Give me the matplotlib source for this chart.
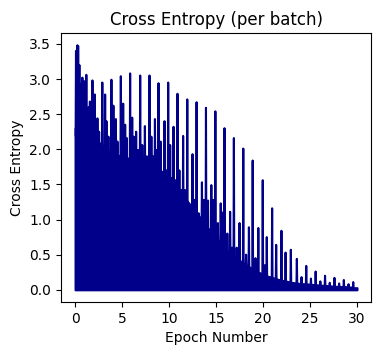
import matplotlib

matplotlib.use("Agg")

import matplotlib.pyplot as plt

# Spikes of the per-batch loss: where they sit (epoch),
# how high they reach, and the level the loss falls back to around them
peak_epoch = [
    0.10, 0.25, 0.33, 0.46, 0.60, 0.78, 0.96, 1.20, 1.45, 1.58, 1.85, 2.10,
    2.38, 2.56, 2.90, 3.20, 3.34, 3.55, 3.87, 4.08, 4.34, 4.51, 4.87, 5.12,
    5.33, 5.50, 5.86, 6.08, 6.25, 6.50, 6.70, 6.93, 7.15, 7.43, 7.65, 7.92,
    8.12, 8.30, 8.50, 8.68, 8.88, 9.10, 9.30, 9.52, 9.70, 9.91, 10.12, 10.30,
    10.48, 10.66, 10.90, 11.10, 11.30, 11.50, 11.70, 11.94, 12.15, 12.50,
    12.70, 12.93, 13.15, 13.50, 13.70, 13.93, 14.15, 14.50, 14.70, 14.93,
    15.20, 15.50, 15.70, 15.90, 16.20, 16.50, 16.70, 16.90, 17.20, 17.50,
    17.90, 18.20, 18.50, 18.90, 19.20, 19.50, 19.97, 20.20, 20.40, 20.97,
    21.40, 21.96, 22.40, 22.96, 23.60, 24.10, 24.60, 25.10, 25.60, 26.10,
    26.60, 27.10, 27.60, 28.10, 28.60, 29.10, 29.60,
]
peak_loss = [
    3.40, 3.48, 3.47, 3.20, 2.92, 3.02, 2.97, 3.06, 2.60, 2.68, 2.98, 2.78,
    2.44, 2.25, 2.95, 2.78, 2.40, 2.18, 2.99, 2.62, 2.43, 2.11, 3.04, 2.65,
    2.35, 2.16, 3.08, 2.45, 2.18, 2.25, 1.99, 3.05, 2.06, 2.33, 1.90, 3.05,
    2.18, 1.90, 2.43, 1.99, 2.94, 2.11, 1.68, 2.40, 1.70, 2.95, 2.06, 1.59,
    2.32, 1.56, 2.79, 1.70, 1.42, 2.19, 1.42, 2.71, 1.23, 1.93,
    1.28, 2.67, 1.09, 1.53, 1.28, 2.59, 1.27, 1.49, 1.28, 2.54,
    0.95, 1.23, 1.10, 2.30, 0.80, 1.11, 0.60, 2.16, 0.60, 0.95,
    2.01, 0.50, 0.89, 1.84, 0.45, 0.88, 1.56, 0.35, 0.75, 1.16,
    0.64, 0.84, 0.53, 0.57, 0.44, 0.18, 0.34, 0.16, 0.26, 0.12,
    0.20, 0.10, 0.17, 0.09, 0.14, 0.08, 0.11,
]
floor_loss = [
    2.20, 2.20, 2.20, 2.20, 2.20, 2.20, 2.15, 2.15, 2.10, 2.10, 2.05, 2.05,
    2.00, 1.95, 1.95, 1.95, 1.90, 1.85, 1.85, 1.85, 1.80, 1.80, 1.80, 1.75,
    1.75, 1.75, 1.75, 1.70, 1.70, 1.70, 1.70, 1.70, 1.65, 1.65, 1.65, 1.65,
    1.60, 1.60, 1.55, 1.55, 1.50, 1.45, 1.45, 1.45, 1.40, 1.40, 1.35, 1.35,
    1.30, 1.30, 1.25, 1.20, 1.20, 1.15, 1.10, 1.05, 1.00, 1.00,
    0.95, 0.90, 0.90, 0.85, 0.80, 0.75, 0.75, 0.70, 0.65, 0.60,
    0.60, 0.55, 0.55, 0.50, 0.50, 0.45, 0.45, 0.40, 0.40, 0.36,
    0.33, 0.32, 0.30, 0.28, 0.26, 0.24, 0.22, 0.20, 0.19, 0.17,
    0.15, 0.13, 0.12, 0.10, 0.09, 0.08, 0.08, 0.07, 0.065, 0.06,
    0.055, 0.05, 0.045, 0.04, 0.04, 0.035, 0.03,
]

# Top of the dense (solid) part of the batch losses, every half epoch
band_epoch = [i * 0.5 for i in range(61)]
band_top = [
    2.30, 2.30, 2.25, 2.20, 2.15, 2.10, 2.05, 2.00, 1.95, 1.92,
    1.90, 1.88, 1.86, 1.84, 1.82, 1.80, 1.78, 1.72, 1.66, 1.60,
    1.55, 1.48, 1.42, 1.35, 1.25, 1.15, 1.08, 1.00, 0.90, 0.82,
    0.75, 0.66, 0.58, 0.52, 0.47, 0.42, 0.37, 0.33, 0.29, 0.25,
    0.22, 0.19, 0.17, 0.15, 0.13, 0.12, 0.10, 0.09, 0.08, 0.075,
    0.07, 0.065, 0.06, 0.055, 0.05, 0.045, 0.04, 0.04, 0.035, 0.03,
    0.03,
]

color = "darkblue"
half_width = 0.04  # each spike is one batch wide

# the loss trace: up to each spike and straight back down
trace_x, trace_y = [], []
for e, top, low in zip(peak_epoch, peak_loss, floor_loss):
    trace_x += [e - half_width, e, e + half_width]
    trace_y += [low, top, low]

fig = plt.figure(figsize=(3.81, 3.55), dpi=100)
ax = fig.add_axes([0.160, 0.149, 0.814, 0.758])

ax.fill_between(band_epoch, 0.0, band_top, color=color, linewidth=1.5,
                edgecolor=color)
ax.plot(trace_x, trace_y, color=color, linewidth=1.5)

ax.set_xlim(-1.5, 31.5)
ax.set_ylim(-0.175, 3.655)
ax.set_xticks([0, 5, 10, 15, 20, 25, 30])
ax.set_yticks([0.0, 0.5, 1.0, 1.5, 2.0, 2.5, 3.0, 3.5])

ax.set_title("Cross Entropy (per batch)", fontsize=12)
ax.set_xlabel("Epoch Number")
ax.set_ylabel("Cross Entropy")

fig.savefig("out.png", dpi=100)
